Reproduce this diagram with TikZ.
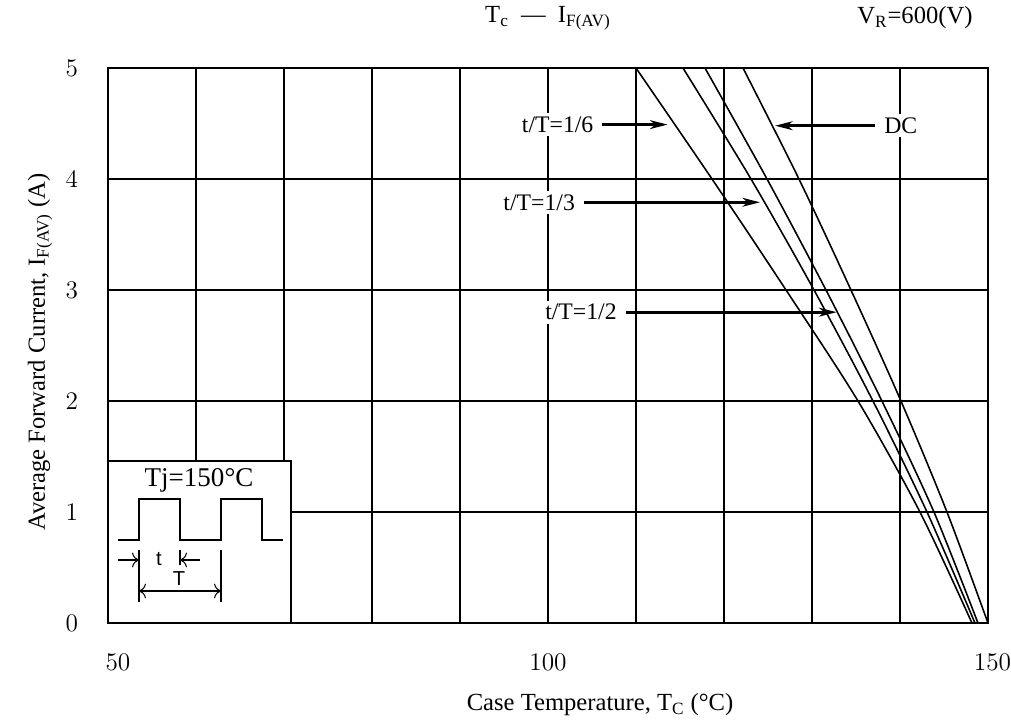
\documentclass[tikz,border=0pt]{standalone}
\usepackage[no-math]{fontspec}
\setmainfont{Liberation Serif}
\newfontfamily\insetfont{Liberation Sans}
\usetikzlibrary{arrows.meta, positioning}

\begin{document}
\begin{tikzpicture}[
  gridline/.style={line width=1.1pt},
  curve/.style={line width=0.9pt},
  lbl/.style={fill=white, inner sep=2pt, font=\fontsize{13.5}{15}\selectfont},
  pointer/.style={line width=1.6pt, -{Stealth[length=10pt,width=5pt,inset=3pt]}, shorten <=3pt},
  thinline/.style={line width=0.6pt},
  tick/.style={font=\fontsize{14}{16}\selectfont},
  small/.style={font=\insetfont\fontsize{11.5}{13}\selectfont, inner sep=0pt}
]
\useasboundingbox (0,0) rectangle (20.22,14.44);

\begin{scope}[shift={(-6.64,1.98)}, x=0.176cm, y=2.22cm]
\foreach \x in {60,70,...,140} % vertical grid lines
\draw[gridline] (\x,0) -- (\x,5);
\foreach \y in {1,2,3,4} % horizontal grid lines
\draw[gridline] (50,\y) -- (150,\y);
\draw[gridline] (50,0) rectangle (150,5);

\foreach \y in {0,...,5} % numbers on the current axis
\node[tick] (ytick\y) at (45.9,\y) {$\y$};

% derating curves
\draw[curve] plot[smooth, tension=0.5] coordinates {(110,5) (118.64,4) (127.05,3) (135.23,2) (142.27,1) (148.18,0)};
\draw[curve] plot[smooth, tension=0.5] coordinates {(115.34,5) (123.07,4) (130.23,3) (136.93,2) (143.07,1) (148.52,0)};
\draw[curve] plot[smooth, tension=0.5] coordinates {(117.84,5) (124.89,4) (131.59,3) (137.95,2) (143.86,1) (148.86,0)};
\draw[curve] plot[smooth, tension=0.5] coordinates {(122.16,5) (128.52,4) (134.43,3) (140.11,2) (145.34,1) (150,0)};

\node[lbl] (lab16) at (101.1,4.49) {t/T=1/6};
\node[lbl] (lab13) at (99.0,3.79) {t/T=1/3};
\node[lbl] (lab12) at (103.75,2.80) {t/T=1/2};
\node[lbl] (labdc) at (140.1,4.48) {DC};
\coordinate (tip16) at (113.6,4.49);
\coordinate (tip13) at (124.1,3.79);
\coordinate (tip12) at (132.8,2.80);
\coordinate (tipdc) at (125.8,4.48);
\draw[pointer] (lab16.east) -- (lab16.east -| tip16);
\draw[pointer] (lab13.east) -- (lab13.east -| tip13);
\draw[pointer] (lab12.east) -- (lab12.east -| tip12);
\draw[pointer] (labdc.west) -- (labdc.west -| tipdc);
\end{scope}

% inset with the pulse train
\draw[gridline, fill=white] (2.16,1.98) rectangle (5.82,5.22);
\node[font=\fontsize{15.4}{17}\selectfont] (tj) at (3.98,4.84) {Tj=150°C};
\draw[thinline] (2.36,3.64) -- (2.78,3.64) -- (2.78,4.46) -- (3.60,4.46) -- (3.60,3.64)
  -- (4.42,3.64) -- (4.42,4.46) -- (5.24,4.46) -- (5.24,3.64) -- (5.66,3.64);
\draw[thinline] (2.78,3.44) -- (2.78,2.40);
\draw[thinline] (3.60,3.44) -- (3.60,3.14);
\draw[thinline] (4.42,3.44) -- (4.42,2.40);
\coordinate (ta) at (2.36,3.24);
\coordinate (tb) at (2.78,3.24);
\coordinate (tc) at (4.00,3.24);
\coordinate (td) at (3.60,3.24);
\draw[thinline, -{To[length=4pt]}] (ta) -- (tb);
\draw[thinline, -{To[length=4pt]}] (tc) -- (td);
\coordinate (pa) at (2.78,2.62);
\coordinate (pb) at (4.42,2.62);
\draw[thinline, {To[length=4pt]}-{To[length=4pt]}] (pa) -- (pb);
\node[small] (tw) at (3.18,3.25) {t};
\node[small] (tp) at (3.58,2.87) {T};

% numbers and titles
\node[tick] (x50) at (2.36,1.2) {$50$};
\node[tick] (x100) at (10.96,1.2) {$100$};
\node[tick] (x150) at (19.85,1.2) {$150$};
\node[tick] (xlabel) at (12.0,0.34) {Case Temperature, T\textsubscript{C} (°C)};
\node[tick, rotate=90] (ylabel) at (0.80,7.40) {Average Forward Current, I\textsubscript{F(AV)} (A)};
\node[tick] (title) at (10.96,14.08) {T\textsubscript{c}\ \ —\ \ I\textsubscript{F(AV)}};
\node[tick] (vr) at (18.30,14.08) {V\textsubscript{R}=600(V)};

\end{tikzpicture}
\end{document}
